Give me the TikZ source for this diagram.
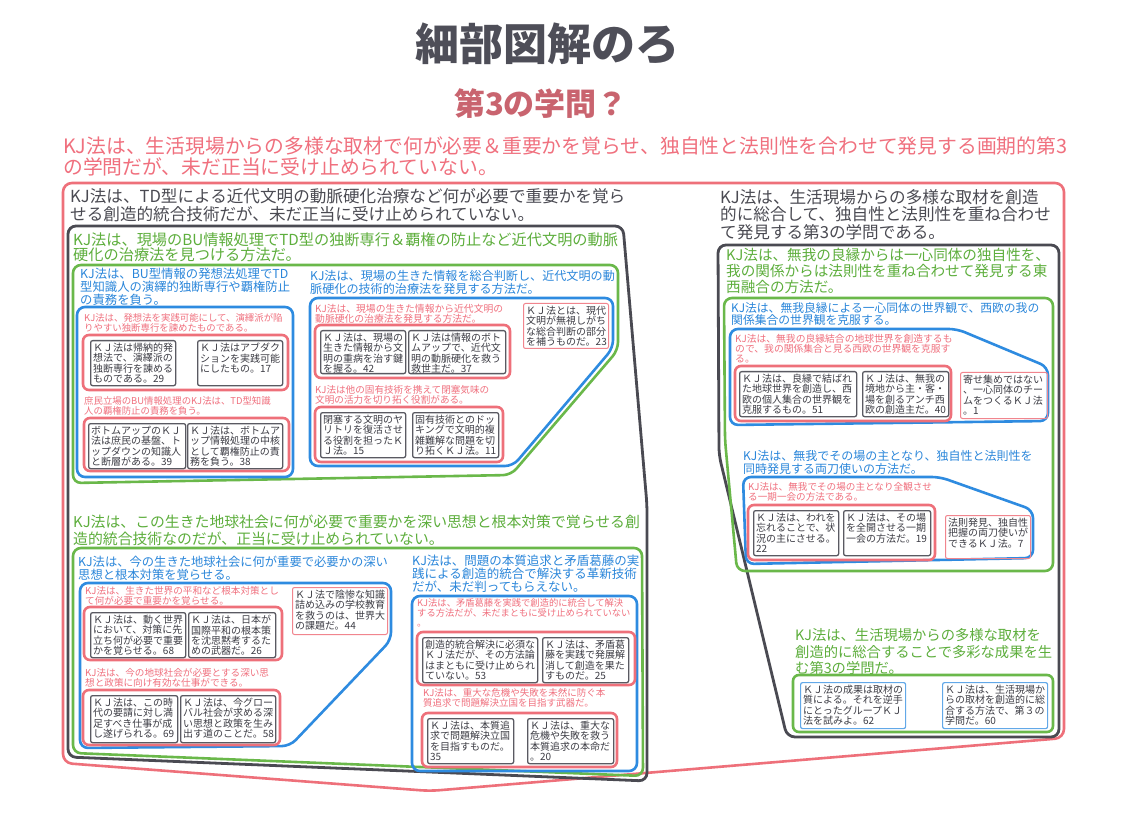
\documentclass[tikz,border=0pt]{standalone}
\usepackage{fontspec}
\setmainfont{Noto Sans CJK JP}
\definecolor{redc}{HTML}{EE707A}
\definecolor{redt}{HTML}{F0707E}
\definecolor{darkc}{HTML}{4A4A52}
\definecolor{greenc}{HTML}{6AB84A}
\definecolor{greent}{HTML}{5DAE3C}
\definecolor{bluec}{HTML}{2E8BE0}
\definecolor{bluet}{HTML}{2A86DA}
\definecolor{cardgray}{HTML}{5A5A62}
\definecolor{cardtext}{HTML}{3C3C44}
\definecolor{titlec}{HTML}{4E4E58}
\definecolor{subc}{HTML}{C9646F}
\newcommand\myfs[2]{\fontsize{#1}{#2}\selectfont}
\newcommand\ctx[3]{\begin{minipage}[t][#2][t]{#1}#3\end{minipage}}
\begin{document}
\begin{tikzpicture}[x=1pt,y=-1pt,
  lab/.style={inner sep=0pt, anchor=north west, align=left},
  boxR/.style={draw=redc, line width=2.6pt, rounded corners=9pt},
  boxK/.style={draw=darkc, line width=2.8pt, rounded corners=8pt},
  boxG/.style={draw=greenc, line width=2.6pt, rounded corners=8pt},
  boxB/.style={draw=bluec, line width=2.6pt, rounded corners=8pt},
  boxI/.style={draw=redc, line width=2.6pt, rounded corners=6pt},
  gcard/.style={draw=cardgray, line width=1.3pt, rounded corners=2pt, inner sep=2.5pt, anchor=north west, font=\myfs{10}{10.4}, text=cardtext},
  rcard/.style={gcard, draw=redc!85, line width=1pt},
  bcard/.style={gcard, draw=bluec!75, line width=1.2pt},
  lr/.style={lab, text=redt},
  lk/.style={lab, text=darkc},
  lg/.style={lab, text=greent},
  lb/.style={lab, text=bluet}]
\fill[white] (0,0) rectangle (1141,826);
\useasboundingbox (0,0) rectangle (1141,826);

% titles
\node[font=\myfs{44}{46}\bfseries, text=titlec, inner sep=0pt] (title) at (547,44) {細部図解のろ};
\node[font=\myfs{31}{33}\bfseries, text=subc, inner sep=0pt] (sub) at (541,104) {第3の学問？};

% top red label
\node[lr, font=\myfs{19.8}{20.5}] (lred) at (63,136.7) {KJ法は、生活現場からの多様な取材で何が必要＆重要かを覚らせ、独自性と法則性を合わせて発見する画期的第3\\の学問だが、未だ正当に受け止められていない。};
\draw[boxR] (63,183) -- (1064,183) -- (1064,738) -- (430,791) -- (63,763) -- cycle;

% ===== left black group
\node[lk, font=\myfs{16.6}{18.2}] (lkL) at (70,188) {KJ法は、TD型による近代文明の動脈硬化治療など何が必要で重要かを覚ら\\せる創造的統合技術だが、未だ正当に受け止められていない。};
\draw[boxK] (68,226) -- (623,226) -- (647,505) -- (647,781) -- (68,757) -- cycle;

% green 1
\node[lg, font=\myfs{15.2}{15.8}] (lg1) at (73,232) {KJ法は、現場のBU情報処理でTD型の独断専行＆覇権の防止など近代文明の動脈\\硬化の治療法を見つける方法だ。};
\draw[boxG] (73,265) -- (618,265) -- (618,350) -- (511,475) -- (73,483) -- cycle;

% blue A
\node[lb, font=\myfs{12.35}{13}] (lbA) at (80,268) {KJ法は、BU型情報の発想法処理でTD\\型知識人の演繹的独断専行や覇権防止\\の責務を負う。};
\draw[boxB] (77,307) rectangle (293,477);
\node[lr, font=\myfs{9.4}{10}] (lrA1) at (84,313) {KJ法は、発想法を実践可能にして、演繹派が陥\\りやすい独断専行を諫めたものである。};
\draw[boxI] (83,335) rectangle (288,390);
\node[gcard] (c29) at (90,340) {\ctx{80pt}{40pt}{ＫＪ法は帰納的発\\想法で、演繹派の\\独断専行を諫める\\ものである。29}};
\node[gcard] (c17) at (197,340) {\ctx{80pt}{40pt}{ＫＪ法はアブダク\\ションを実践可能\\にしたもの。17}};
\node[lr, font=\myfs{9.4}{10}] (lrA2) at (84,396.6) {庶民立場のBU情報処理のKJ法は、TD型知識\\人の覇権防止の責務を負う。};
\draw[boxI] (84,418) rectangle (289,471);
\node[gcard] (c39) at (88,423) {\ctx{92pt}{40pt}{ボトムアップのＫＪ\\法は庶民の基盤、ト\\ップダウンの知識人\\と断層がある。39}};
\node[gcard] (c38) at (187,423) {\ctx{90pt}{40pt}{ＫＪ法は、ボトムア\\ップ情報処理の中核\\として覇権防止の責\\務を負う。38}};

% blue B
\node[lb, font=\myfs{12.1}{12.8}] (lbB) at (310,270) {KJ法は、現場の生きた情報を総合判断し、近代文明の動\\脈硬化の技術的治療法を発見する方法だ。};
\draw[boxB] (310,298) -- (613,298) -- (613,348) -- (513,466) -- (310,466) -- cycle;
\node[lr, font=\myfs{9.8}{10.2}] (lrB1) at (315,304) {KJ法は、現場の生きた情報から近代文明の\\動脈硬化の治療法を発見する方法だ。};
\draw[boxI] (315,325) rectangle (510,378);
\node[gcard] (c42) at (320,330) {\ctx{80pt}{38pt}{ＫＪ法は、現場の\\生きた情報から文\\明の重病を治す鍵\\を握る。42}};
\node[gcard] (c37) at (408,330) {\ctx{92pt}{38pt}{ＫＪ法は情報のボト\\ムアップで、近代文\\明の動脈硬化を救う\\救世主だ。37}};
\node[rcard] (c23) at (523,303) {\ctx{80pt}{40pt}{ＫＪ法とは、現代\\文明が無視しがち\\な総合判断の部分\\を補うものだ。23}};
\node[lr, font=\myfs{9.6}{10}] (lrB2) at (315,385.5) {KJ法は他の固有技術を携えて閉塞気味の\\文明の活力を切り拓く役割がある。};
\draw[boxI] (315,407) rectangle (503,462);
\node[gcard] (c15) at (320,412) {\ctx{80pt}{40pt}{閉塞する文明のヤ\\リトリを復活させ\\る役割を担ったＫ\\Ｊ法。15}};
\node[gcard] (c11) at (412,412) {\ctx{81pt}{40pt}{固有技術とのドッ\\キングで文明的複\\雑難解な問題を切\\り拓くＫＪ法。11}};

% green 2
\node[lg, font=\myfs{14.85}{16.5}] (lg2) at (73,515) {KJ法は、この生きた地球社会に何が必要で重要かを深い思想と根本対策で覚らせる創\\造的統合技術なのだが、正当に受け止められていない。};
\draw[boxG] (73,548) -- (642,548) -- (643,776) -- (73,753) -- cycle;

% blue C
\node[lb, font=\myfs{12.3}{13.3}] (lbC) at (78,555.5) {KJ法は、今の生きた地球社会に何が重要で必要かの深い\\思想と根本対策を覚らせる。};
\draw[boxB] (80,583) -- (391,583) -- (391,640) -- (290,746) -- (80,748) -- cycle;
\node[lr, font=\myfs{9.6}{10}] (lrC1) at (85,586.5) {KJ法は、生きた世界の平和など根本対策とし\\て何が必要で重要かを覚らせる。};
\draw[boxI] (84,607) rectangle (282,660);
\node[gcard] (c68) at (90,612) {\ctx{90pt}{40pt}{ＫＪ法は、動く世界\\において、対策に先\\立ち何が必要で重要\\かを覚らせる。68}};
\node[gcard] (c26) at (188,612) {\ctx{82pt}{40pt}{ＫＪ法は、日本が\\国際平和の根本策\\を沈思黙考するた\\めの武器だ。26}};
\node[rcard] (c44) at (292,587) {\ctx{90pt}{42pt}{ＫＪ法で陰惨な知識\\詰め込みの学校教育\\を救うのは、世界大\\の課題だ。44}};
\node[lr, font=\myfs{9.6}{10}] (lrC2) at (85,668.5) {KJ法は、今の地球社会が必要とする深い思\\想と政策に向け有効な仕事ができる。};
\draw[boxI] (83,690) rectangle (280,745);
\node[gcard] (c69) at (90,695) {\ctx{82pt}{42pt}{ＫＪ法は、この時\\代の要請に対し満\\足すべき仕事が成\\し遂げられる。69}};
\node[gcard] (c58) at (180,695) {\ctx{90pt}{42pt}{ＫＪ法は、今グロー\\バル社会が求める深\\い思想と政策を生み\\出す道のことだ。58}};

% blue G
\node[lb, font=\myfs{12.5}{13}] (lbG) at (412,554.5) {KJ法は、問題の本質追求と矛盾葛藤の実\\践による創造的統合で解決する革新技術\\だが、未だ判ってもらえない。};
\draw[boxB] (412,596) rectangle (637,771);
\node[lr, font=\myfs{9.3}{10}] (lrG1) at (417,598.5) {KJ法は、矛盾葛藤を実践で創造的に統合して解決\\する方法だが、未だまともに受け止められていない\\。};
\draw[boxI] (417,632) rectangle (635,685);
\node[gcard] (c53) at (422,637) {\ctx{110pt}{40pt}{創造的統合解決に必須な\\ＫＪ法だが、その方法論\\はまともに受け止められ\\ていない。53}};
\node[gcard] (c25) at (542,637) {\ctx{81pt}{40pt}{ＫＪ法は、矛盾葛\\藤を実践で発展解\\消して創造を果た\\すものだ。25}};
\node[lr, font=\myfs{9.5}{10}] (lrG2) at (423,688.5) {KJ法は、重大な危機や失敗を未然に防ぐ本\\質追求で問題解決立国を目指す武器だ。};
\draw[boxI] (422,713) rectangle (617,767);
\node[gcard] (c35) at (427,718) {\ctx{81pt}{40pt}{ＫＪ法は、本質追\\求で問題解決立国\\を目指すものだ。\\35}};
\node[gcard] (c20) at (527,718) {\ctx{81pt}{40pt}{ＫＪ法は、重大な\\危機や失敗を救う\\本質追求の本命だ\\。20}};

% ===== right black group
\node[lk, font=\myfs{16.6}{17.8}] (lkR) at (720,189) {KJ法は、生活現場からの多様な取材を創造\\的に総合して、独自性と法則性を重ね合わせ\\て発見する第3の学問である。};
\draw[boxK] (718,245) -- (1059,245) -- (1059,737) -- (787,737) -- (719,455) -- cycle;

\node[lg, font=\myfs{14.6}{15.8}] (lgR) at (726,248.5) {KJ法は、無我の良縁からは一心同体の独自性を、\\我の関係からは法則性を重ね合わせて発見する東\\西融合の方法だ。};
\draw[boxG] (724,298) -- (1053,298) -- (1053,571) -- (737,571) -- (725,440) -- cycle;

% blue D
\node[lb, font=\myfs{11.8}{12.4}] (lbD) at (731,302) {KJ法は、無我良縁による一心同体の世界観で、西欧の我の\\関係集合の世界観を克服する。};
\draw[boxB] (730,329) -- (957,329) -- (1048,367) -- (1048,421) -- (730,425) -- cycle;
\node[lr, font=\myfs{9.8}{10}] (lrD) at (735,334.5) {KJ法は、無我の良縁結合の地球世界を創造するも\\ので、我の関係集合と見る西欧の世界観を克服す\\る。};
\draw[boxI] (735,366) rectangle (951,421);
\node[gcard] (c51) at (739,371) {\ctx{112pt}{40pt}{ＫＪ法は、良縁で結ばれ\\た地球世界を創造し、西\\欧の個人集合の世界観を\\克服するもの。51}};
\node[gcard] (c40) at (862,371) {\ctx{81pt}{40pt}{ＫＪ法は、無我の\\境地から主・客・\\場を創るアンチ西\\欧の創造主だ。40}};
\node[rcard] (c1) at (960,372) {\ctx{82pt}{41pt}{寄せ集めではない\\、一心同体のチー\\ムをつくるＫＪ法\\。1}};

% blue E
\node[lb, font=\myfs{12}{13}] (lbE) at (743,450.4) {KJ法は、無我でその場の主となり、独自性と法則性を\\同時発見する両刀使いの方法だ。};
\draw[boxB] (743,477) -- (940,477) -- (1033,510) -- (1033,558) -- (746,564) -- cycle;
\node[lr, font=\myfs{9.6}{10}] (lrE) at (748,482.5) {KJ法は、無我でその場の主となり全観させ\\る一期一会の方法である。};
\draw[boxI] (748,505) rectangle (935,560);
\node[gcard] (c22) at (753,510) {\ctx{80pt}{40pt}{ＫＪ法は、われを\\忘れることで、状\\況の主にさせる。\\22}};
\node[gcard] (c19) at (843,510) {\ctx{82pt}{40pt}{ＫＪ法は、その場\\を全開させる一期\\一会の方法だ。19}};
\node[rcard] (c7) at (945,515) {\ctx{80pt}{38pt}{法則発見、独自性\\把握の両刀使いが\\できるＫＪ法。7}};

% green F
\node[lg, font=\myfs{14.3}{16.5}] (lgF) at (795,628.3) {KJ法は、生活現場からの多様な取材を\\創造的に総合することで多彩な成果を生\\む第3の学問だ。};
\draw[boxG, rounded corners=6pt] (793,675) rectangle (1053,732);
\node[bcard] (c62) at (800,682) {\ctx{100pt}{41pt}{ＫＪ法の成果は取材の\\質による。それを逆手\\にとったグループＫＪ\\法を試みよ。62}};
\node[bcard] (c60) at (942,682) {\ctx{100pt}{41pt}{ＫＪ法は、生活現場か\\らの取材を創造的に総\\合する方法で、第３の\\学問だ。60}};
\end{tikzpicture}
\end{document}
